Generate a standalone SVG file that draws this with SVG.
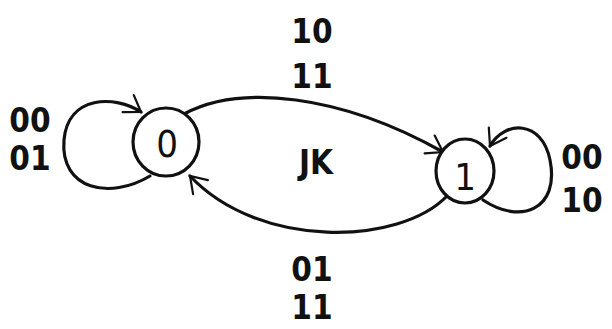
<svg xmlns="http://www.w3.org/2000/svg" width="612" height="329" viewBox="0 0 612 329">
<style>
.e{fill:none;stroke:#111;stroke-width:3.2;stroke-linecap:round}
.n{fill:#fff;stroke:#111;stroke-width:3.2}
.t{font-family:"DejaVu Sans Condensed","Liberation Sans",sans-serif;font-size:33px;font-weight:600;fill:#111;text-anchor:middle}
.s{font-family:"DejaVu Sans Condensed","Liberation Sans",sans-serif;font-size:38px;fill:#111;text-anchor:middle}
</style>
<defs>
<marker id="a" viewBox="0 0 20 20" refX="18" refY="10" markerWidth="17" markerHeight="17" markerUnits="userSpaceOnUse" orient="auto" overflow="visible">
<path d="M0,-2 L18,10 L0,22" fill="none" stroke="#111" stroke-width="2.6" stroke-linecap="round"/>
</marker>
</defs>
<g id="edges">
<path class="e" d="M150,176 C110,200 60,190 64,140 C68,95 115,95 141,112" marker-end="url(#a)"/>
<path class="e" d="M483,200 C520,225 560,210 550,160 C542,120 505,120 490,146" marker-end="url(#a)"/>
<path class="e" d="M184,114 C240,84 340,94 443,152" marker-end="url(#a)"/>
<path class="e" d="M447,196 C400,245 260,250 190,176" marker-end="url(#a)"/>
</g>
<g id="node0">
<ellipse class="n" cx="166" cy="142" rx="33" ry="34"/>
<text class="s" x="167" y="157">0</text>
</g>
<g id="node1">
<ellipse class="n" cx="465" cy="171" rx="29" ry="32"/>
<text class="s" x="465" y="190">1</text>
</g>
<g id="labels">
<text class="t" x="30" y="132">00</text>
<text class="t" x="30" y="170">01</text>
<text class="t" x="312" y="43">10</text>
<text class="t" x="312" y="88">11</text>
<text class="t" x="316" y="174">JK</text>
<text class="t" x="312" y="281">01</text>
<text class="t" x="312" y="319">11</text>
<text class="t" x="582" y="169">00</text>
<text class="t" x="582" y="212">10</text>
</g>
</svg>
